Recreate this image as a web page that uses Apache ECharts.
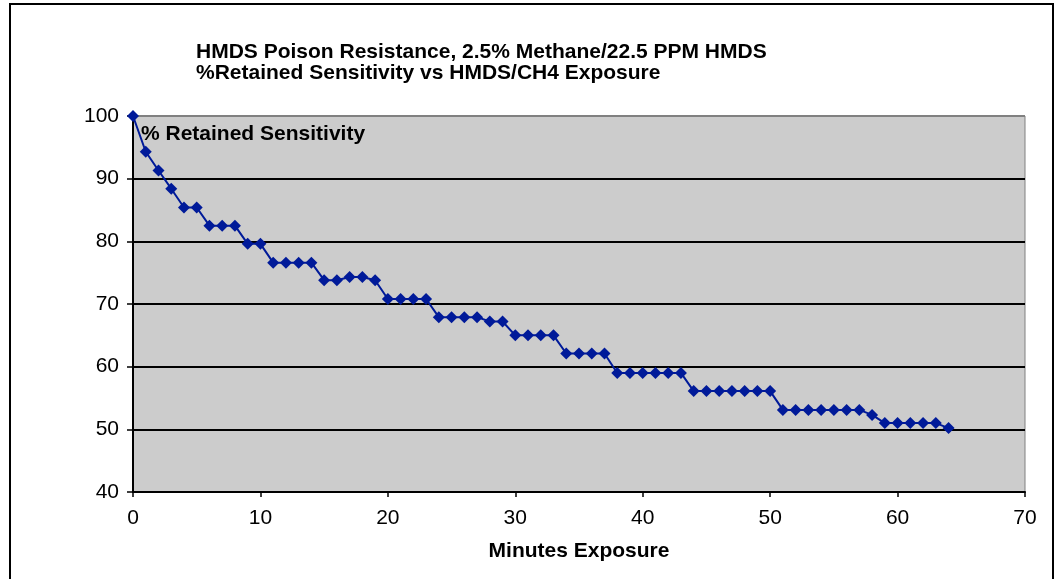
<!DOCTYPE html>
<html><head><meta charset="utf-8">
<script src="https://cdn.jsdelivr.net/npm/echarts@6/dist/echarts.min.js"></script>
<style>html,body{margin:0;padding:0;background:#fff}#c{width:1064px;height:579px}</style>
</head><body><div id="c"></div>
<script>
const minutes = [0,1,2,3,4,5,6,7,8,9,10,11,12,13,14,15,16,17,18,19,20,21,22,23,24,25,26,27,28,29,30,31,32,33,34,35,36,37,38,39,40,41,42,43,44,45,46,47,48,49,50,51,52,53,54,55,56,57,58,59,60,61,62,63,64];
const retained = [100,94.3,91.3,88.4,85.4,85.4,82.5,82.5,82.5,79.6,79.6,76.6,76.6,76.6,76.6,73.8,73.8,74.3,74.3,73.8,70.8,70.8,70.8,70.8,67.9,67.9,67.9,67.9,67.2,67.2,65,65,65,65,62.1,62.1,62.1,62.1,59,59,59,59,59,59,56.1,56.1,56.1,56.1,56.1,56.1,56.1,53.1,53.1,53.1,53.1,53.1,53.1,53.1,52.3,51,51,51,51,51,50.2];
const titleLines = ['HMDS Poison Resistance, 2.5% Methane/22.5 PPM HMDS', '%Retained Sensitivity vs HMDS/CH4 Exposure'];
const yName = '% Retained Sensitivity';
const xName = 'Minutes Exposure';

const chart = echarts.init(document.getElementById('c'), null, {renderer:'canvas'});
const font = 'Liberation Sans, Arial, sans-serif';
chart.setOption({
  animation:false,
  backgroundColor:'#ffffff',
  title:[
    {text:titleLines.join('\n'), left:191, top:37, textStyle:{fontFamily:font, fontSize:21, fontWeight:'bold', color:'#000', lineHeight:21}},
    {text:yName, left:136, top:119, textStyle:{fontFamily:font, fontSize:21, fontWeight:'bold', color:'#000'}}
  ],
  graphic:[{type:'rect', shape:{x:10, y:4, width:1043, height:590}, style:{fill:null, stroke:'#000', lineWidth:2}, silent:true, z:-1}],
  grid:{left:133, right:39, top:116, bottom:87, show:true, backgroundColor:'#cccccc', borderColor:'#808080', borderWidth:1},
  xAxis:{type:'value', min:0, max:70, interval:10,
    name:xName, nameLocation:'middle', nameGap:49,
    nameTextStyle:{fontFamily:font, fontSize:21, fontWeight:'bold', color:'#000'},
    axisLine:{lineStyle:{color:'#000', width:2}}, axisTick:{show:true, length:5, lineStyle:{color:'#000', width:1.5}},
    axisLabel:{fontFamily:font, fontSize:21, color:'#000', margin:16}, splitLine:{show:false}},
  yAxis:{type:'value', min:40, max:100, interval:10,
    axisLine:{show:true, lineStyle:{color:'#000', width:2}}, axisTick:{show:true, length:6, lineStyle:{color:'#000', width:1.5}},
    axisLabel:{fontFamily:font, fontSize:21, color:'#000', margin:14},
    splitLine:{show:true, lineStyle:{color:['#000','#000','#000','#000','#000','#000','#808080'], width:2}}},
  series:[{type:'line', data:minutes.map((m,i)=>[m,retained[i]]),
    symbol:'diamond', symbolSize:12, lineStyle:{color:'#001a99', width:2},
    itemStyle:{color:'#001a99'}}]
});
</script></body></html>
